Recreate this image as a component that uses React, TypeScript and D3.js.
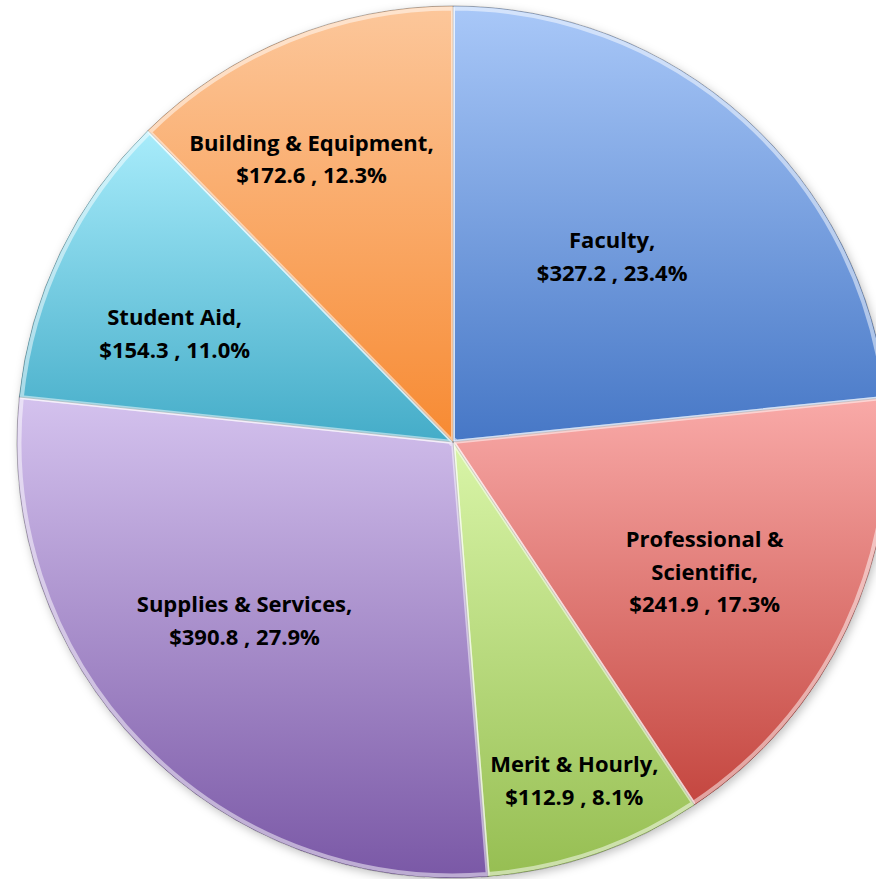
import React, { useEffect, useRef } from "react";
import * as d3 from "d3";

// Budget categories, clockwise from 12 o'clock
const categories = [
  "Faculty",
  "Professional & Scientific",
  "Merit & Hourly",
  "Supplies & Services",
  "Student Aid",
  "Building & Equipment",
];
// how the category name wraps inside the slice
const nameLines = [
  ["Faculty,"],
  ["Professional &", "Scientific,"],
  ["Merit & Hourly,"],
  ["Supplies & Services,"],
  ["Student Aid,"],
  ["Building & Equipment,"],
];
const values = [327.2, 241.9, 112.9, 390.8, 154.3, 172.6];

// gradient stops (light top -> dark bottom)
const lightColors = ["#a9c8f8", "#f9aaa8", "#d9f5a8", "#d4c2ee", "#a8ecfb", "#fcc79b"];
const darkColors = ["#4677c6", "#c4463f", "#96be52", "#7a58a6", "#44acc8", "#f78a32"];

// label placement: fraction of radius, and angle nudge (degrees) from the mid angle
const labelRadius = [0.56, 0.65, 0.825, 0.63, 0.685, 0.725];
const labelAngleShift = [-1.4, 2.1, -0.6, 3.7, -4.5, -4.4];

const width = 876;
const height = 879;

const App = () => {
  const ref = useRef<SVGSVGElement>(null);

  useEffect(() => {
    const svg = d3.select(ref.current);
    svg.selectAll("*").remove();

    const cx = 453;
    const cy = 442;
    const radius = 436;
    const total = d3.sum(values);

    const data = categories.map((c, i) => ({ name: c, value: values[i], i }));

    const defs = svg.append("defs");
    data.forEach((d) => {
      const g = defs.append("linearGradient")
        .attr("id", `grad${d.i}`)
        .attr("x1", 0).attr("y1", 0)
        .attr("x2", 0).attr("y2", 1);
      g.append("stop").attr("offset", "0%").attr("stop-color", lightColors[d.i]);
      g.append("stop").attr("offset", "100%").attr("stop-color", darkColors[d.i]);
    });

    const shadow = defs.append("filter")
      .attr("id", "shadow")
      .attr("x", "-10%").attr("y", "-10%")
      .attr("width", "120%").attr("height", "120%");
    shadow.append("feDropShadow")
      .attr("dx", 2).attr("dy", 3)
      .attr("stdDeviation", 5)
      .attr("flood-color", "#000")
      .attr("flood-opacity", 0.25);

    const pie = d3.pie<any>()
      .value((d) => d.value)
      .sort(null);

    const arc = d3.arc<any>()
      .innerRadius(0)
      .outerRadius(radius);

    const g = svg.append("g")
      .attr("transform", `translate(${cx}, ${cy})`);

    const arcs = pie(data);

    // soft shadow under the whole pie
    g.append("circle")
      .attr("r", radius)
      .attr("fill", "#fff")
      .attr("filter", "url(#shadow)");

    const slices = g.selectAll("g.slice")
      .data(arcs)
      .enter()
      .append("g")
      .attr("class", "slice");

    slices.append("path")
      .attr("d", arc)
      .attr("fill", (d) => `url(#grad${d.data.i})`)
      .attr("stroke", "rgba(0,0,0,0.3)")
      .attr("stroke-width", 1);

    // bevel-ish highlight on the edges
    slices.append("path")
      .attr("d", d3.arc<any>().innerRadius(2.5).outerRadius(radius - 2.5))
      .attr("fill", "none")
      .attr("stroke", "rgba(255,255,255,0.5)")
      .attr("stroke-width", 4)
      .attr("stroke-linejoin", "round");

    // labels
    const labels = slices.append("text")
      .attr("transform", (d) => {
        const r = radius * labelRadius[d.data.i];
        const a = (d.startAngle + d.endAngle) / 2 + (labelAngleShift[d.data.i] * Math.PI) / 180;
        return `translate(${r * Math.sin(a)}, ${-r * Math.cos(a)})`;
      })
      .attr("text-anchor", "middle")
      .style("font-family", "'Open Sans', Lato, sans-serif")
      .style("font-weight", "bold")
      .style("font-size", "22px")
      .attr("fill", "#000");

    labels.each(function (d) {
      const lines = [
        ...nameLines[d.data.i],
        `$${d.data.value.toFixed(1)} , ${((d.data.value / total) * 100).toFixed(1)}%`,
      ];
      const lh = 32.5;
      const y0 = -((lines.length - 1) * lh) / 2;
      const t = d3.select(this);
      lines.forEach((line, k) => {
        t.append("tspan")
          .attr("x", 0)
          .attr("y", y0 + k * lh)
          .attr("dy", "0.35em")
          .text(line);
      });
    });
  }, []);

  return (
    <svg
      ref={ref}
      width={width}
      height={height}
      style={{ position: "absolute", left: 0, top: 0, background: "#fff" }}
    />
  );
};

export default App;
